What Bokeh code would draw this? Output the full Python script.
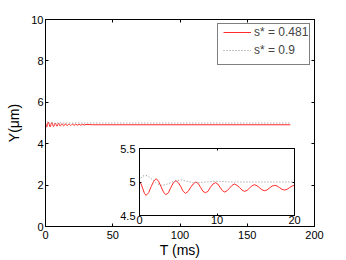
from bokeh.plotting import figure
from bokeh.models import (LinearAxis, FixedTicker, CustomJSTickFormatter, Legend,
                          LegendItem, Range1d)
from bokeh.layouts import column
from bokeh.embed import file_html
from bokeh.resources import INLINE

# ---- data ----
series_labels = ["s* = 0.481", "s* = 0.9"]

t_red = [0.00, 0.21, 0.43, 0.64, 0.85,
         1.18, 1.50, 1.83, 2.15,
         2.46, 2.78, 3.09, 3.40,
         3.73, 4.05, 4.38, 4.70,
         5.01, 5.33, 5.64, 5.95,
         6.28, 6.60, 6.93, 7.25,
         7.56, 7.88, 8.19, 8.50,
         8.83, 9.15, 9.48, 9.80,
         10.10, 10.40, 10.70, 11.00,
         11.31, 11.63, 11.94, 12.25,
         12.58, 12.90, 13.23, 13.55,
         13.88, 14.20, 14.53, 14.85,
         15.16, 15.48, 15.79, 16.10,
         16.44, 16.78, 17.11, 17.45,
         17.76, 18.08, 18.39, 18.70,
         19.03, 19.35, 19.68, 20.00,
         21.25, 22.50, 23.75, 25.00, 26.30, 27.55, 28.80, 30.10, 35.0, 182.0]
y_red = [5.00, 4.97, 4.90, 4.83, 4.80,
         4.84, 4.93, 5.01, 5.05,
         5.01, 4.93, 4.85, 4.81,
         4.84, 4.92, 4.99, 5.02,
         4.99, 4.93, 4.86, 4.83,
         4.86, 4.92, 4.97, 5.00,
         4.98, 4.92, 4.86, 4.84,
         4.86, 4.92, 4.97, 4.99,
         4.97, 4.92, 4.87, 4.85,
         4.87, 4.91, 4.95, 4.97,
         4.95, 4.92, 4.88, 4.86,
         4.875, 4.91, 4.945, 4.96,
         4.945, 4.915, 4.885, 4.87,
         4.88, 4.91, 4.94, 4.95,
         4.94, 4.915, 4.89, 4.88,
         4.89, 4.915, 4.94, 4.95,
         4.885, 4.945, 4.89, 4.94, 4.895, 4.935, 4.90, 4.93, 4.915, 4.915]

t_dot = [0.0, 0.3, 0.7, 1.1, 1.6, 2.2, 2.8, 3.4, 4.0, 4.7, 5.4, 6.1, 6.9, 7.7,
         8.6, 9.5, 10.5, 11.5, 13.0, 15.0, 20.0, 182.6]
y_dot = [5.02, 5.08, 5.10, 5.09, 5.04, 4.98, 4.95, 4.96, 4.99, 5.02, 5.03, 5.01,
         4.99, 4.99, 5.00, 5.01, 5.01, 5.00, 5.00, 5.00, 5.00, 5.00]

main_x_ticks = [0, 50, 100, 150, 200]
main_y_ticks = [0, 2, 4, 6, 8, 10]
inset_x_ticks = [0, 10, 20]
inset_y_ticks = [4.5, 5, 5.5]

FONT = "Liberation Sans"
RED = "#ff2a2a"
GREY = "#8c8c8c"
BLANK = "return ''"


def style_axis(ax, ticks, tick_len, show_labels=True, font_size="11px"):
    ax.ticker = FixedTicker(ticks=ticks)
    ax.major_tick_in = tick_len
    ax.major_tick_out = 0
    ax.minor_tick_line_color = None
    ax.axis_line_color = "black"
    ax.major_tick_line_color = "black"
    ax.major_label_text_font = FONT
    ax.major_label_text_font_size = font_size
    ax.major_label_text_color = "black"
    ax.axis_label_text_font = FONT
    ax.axis_label_text_font_style = "normal"
    ax.axis_label_text_color = "black"
    if not show_labels:
        ax.formatter = CustomJSTickFormatter(code=BLANK)
        ax.major_label_standoff = 0


def style_legend(lg):
    lg.location = "top_right"
    lg.margin = 4
    lg.padding = 2
    lg.spacing = 0
    lg.glyph_width = 28
    lg.glyph_height = 18
    lg.label_height = 18
    lg.label_width = 56
    lg.label_standoff = 3
    lg.label_text_font = FONT
    lg.label_text_font_size = "12px"


# ---- main figure ----
p = figure(width=340, height=260,
           x_range=Range1d(0, 200), y_range=Range1d(0, 10),
           min_border_left=45, min_border_right=26, min_border_top=19,
           min_border_bottom=32,
           output_backend="svg", toolbar_location=None)
p.frame_align = False
p.grid.visible = False
p.outline_line_color = "black"
p.background_fill_color = "white"
p.border_fill_color = "white"

r1 = p.line(t_red, y_red, line_color=RED, line_width=1)
r2 = p.line(t_dot, y_dot, line_color=GREY, line_width=1, line_dash="1 2")
r_blank = p.line([], [], line_alpha=0)

style_axis(p.xaxis[0], main_x_ticks, 3)
style_axis(p.yaxis[0], main_y_ticks, 3)
p.xaxis[0].axis_label = "T (ms)"
p.xaxis[0].axis_label_text_font_size = "14px"
p.xaxis[0].major_label_standoff = 4
p.xaxis[0].axis_label_standoff = 0
p.yaxis[0].axis_label = "Y(\u03bcm)"
p.yaxis[0].axis_label_text_font_size = "14px"
p.yaxis[0].major_label_standoff = 2
p.yaxis[0].axis_label_standoff = 6

top_ax = LinearAxis()
style_axis(top_ax, main_x_ticks, 3, show_labels=False)
p.add_layout(top_ax, "above")
right_ax = LinearAxis()
style_axis(right_ax, main_y_ticks, 3, show_labels=False)
p.add_layout(right_ax, "right")

# legend frame (box only) drawn first, then the real legend on top of it
legend_box = Legend(items=[LegendItem(label=" ", renderers=[r_blank]),
                           LegendItem(label=" ", renderers=[r_blank])])
style_legend(legend_box)
legend_box.border_line_color = "black"
legend_box.border_line_width = 1
legend_box.background_fill_color = "white"
legend_box.background_fill_alpha = 1.0
p.add_layout(legend_box)

legend = Legend(items=[LegendItem(label=series_labels[0], renderers=[r1]),
                       LegendItem(label=series_labels[1], renderers=[r2])])
style_legend(legend)
legend.border_line_color = None
legend.background_fill_alpha = 0.0
p.add_layout(legend)

# ---- inset figure ----
q = figure(width=191, height=87,
           x_range=Range1d(0, 20), y_range=Range1d(4.5, 5.5),
           min_border_left=26, min_border_right=10, min_border_top=4,
           min_border_bottom=16,
           output_backend="svg", toolbar_location=None)
q.frame_align = False
q.grid.visible = False
q.outline_line_color = "black"
q.background_fill_color = "white"
q.border_fill_alpha = 0.0
q.line(t_red, y_red, line_color=RED, line_width=1)
q.line(t_dot, y_dot, line_color=GREY, line_width=1, line_dash="1 2")
style_axis(q.xaxis[0], inset_x_ticks, 2)
style_axis(q.yaxis[0], inset_y_ticks, 2)
q.xaxis[0].major_label_standoff = 0
q.yaxis[0].major_label_standoff = 4
q_top = LinearAxis()
style_axis(q_top, inset_x_ticks, 2, show_labels=False)
q.add_layout(q_top, "above")
q_right = LinearAxis()
style_axis(q_right, inset_y_ticks, 2, show_labels=False)
q.add_layout(q_right, "right")
q.styles = {"margin-top": "-116px", "margin-left": "113px"}

root = column(p, q)
open("out.html", "w").write(file_html(root, INLINE))
